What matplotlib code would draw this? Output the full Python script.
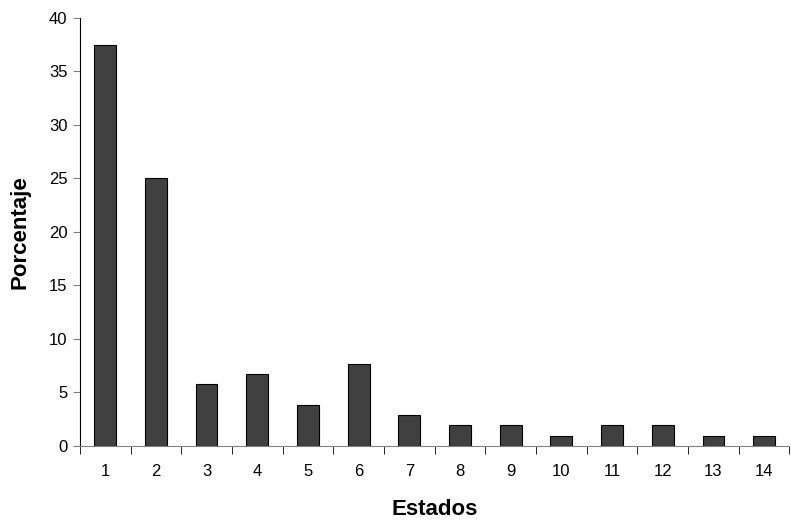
import matplotlib.pyplot as plt
import numpy as np

plt.rcParams['font.family'] = ['Liberation Sans', 'DejaVu Sans']

estados = list(range(1, 15))
porcentaje = [37.5, 25.0, 5.77, 6.73, 3.85, 7.69, 2.88, 1.92, 1.92, 0.96, 1.92, 1.92, 0.96, 0.96]
yticks = [0, 5, 10, 15, 20, 25, 30, 35, 40]

fig = plt.figure(figsize=(7.91, 5.22), dpi=100)
ax = fig.add_axes([0.101, 0.1456, 0.897, 0.82])

ax.bar(estados, porcentaje, width=0.43, color='#404040', edgecolor='black', linewidth=0.8)

ax.set_xlim(0.5, 14.5)
ax.set_ylim(0, 40)
ax.set_yticks(yticks)
ax.set_xticks(estados)
ax.set_xticks(np.arange(0.5, 14.6, 1), minor=True)
ax.tick_params(axis='x', which='major', length=0, pad=13, labelsize=12)
ax.tick_params(axis='x', which='minor', length=6, direction='out', color='black')
ax.tick_params(axis='y', length=5, direction='out', labelsize=12, color='gray', pad=4)

for s in ['top', 'right']:
    ax.spines[s].set_visible(False)
ax.spines['bottom'].set_color('gray')
ax.spines['left'].set_color('black')

ax.set_xlabel('Estados', fontsize=16, fontweight='bold', va='center')
ax.set_ylabel('Porcentaje', fontsize=16, fontweight='bold', va='center')
ax.xaxis.set_label_coords(0.5, -0.1495)
ax.yaxis.set_label_coords(-0.0846, 0.5)

plt.savefig('out.png', dpi=100)
